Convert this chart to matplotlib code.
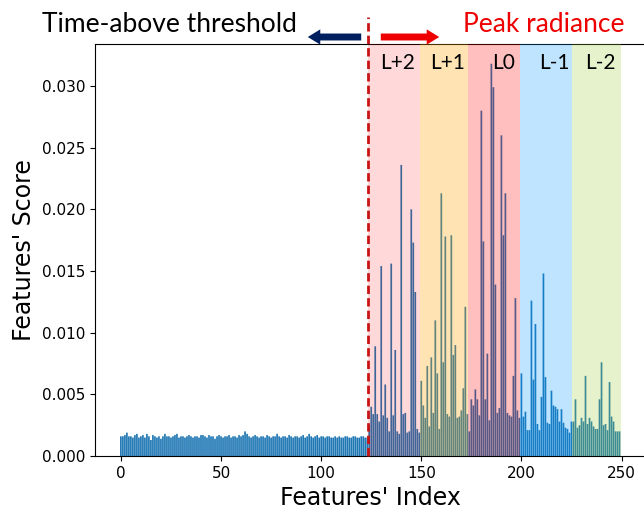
import numpy as np
import matplotlib.pyplot as plt

# feature scores (x 1e-3)
flat = [1.6, 1.6, 1.7, 1.9, 1.6, 1.6, 1.5, 1.7, 1.8, 1.5,
        1.6, 1.7, 1.5, 1.8, 1.6, 1.3, 1.7, 1.6, 1.5, 1.6,
        1.4, 1.6, 1.8, 1.6, 1.6, 1.5, 1.6, 1.7, 1.8, 1.5,
        1.6, 1.6, 1.5, 1.6, 1.7, 1.6, 1.5, 1.6, 1.6, 1.5,
        1.7, 1.7, 1.6, 1.5, 1.7, 1.6, 1.6, 1.4, 1.6, 1.7,
        1.6, 1.5, 1.6, 1.6, 1.7, 1.5, 1.6, 1.6, 1.5, 1.7,
        1.6, 1.7, 2.0, 1.8, 1.6, 1.5, 1.6, 1.7, 1.6, 1.5,
        1.6, 1.6, 1.5, 1.7, 1.6, 1.5, 1.6, 1.6, 1.8, 1.6,
        1.5, 1.6, 1.6, 1.5, 1.7, 1.6, 1.5, 1.6, 1.6, 1.5,
        1.6, 1.7, 1.5, 1.6, 1.8, 1.6, 1.5, 1.6, 1.7, 1.5,
        1.6, 1.6, 1.5, 1.6, 1.6, 1.5, 1.5, 1.6, 1.5, 1.6,
        1.5, 1.5, 1.6, 1.6, 1.5, 1.5, 1.6, 1.6, 1.5, 1.5,
        1.6, 1.6, 1.5, 1.5]
lp2 = [2.5, 4.0, 3.4, 8.9, 3.4, 2.8, 15.4, 3.3, 5.8, 3.1, 2.0, 15.6, 3.3,
       8.6, 2.0, 1.8, 23.6, 3.4, 3.5, 1.9, 2.0, 20.0, 17.3, 13.3, 2.2, 1.9]
lp1 = [6.1, 4.1, 3.1, 7.3, 2.4, 8.0, 3.5, 11.0, 6.7, 2.2, 21.3, 7.6,
       17.8, 3.4, 3.2, 17.9, 8.2, 9.0, 3.1, 3.2, 3.7, 5.5, 12.1, 3.4]
l0 = [2.0, 4.6, 4.1, 5.4, 4.6, 3.3, 28.0, 17.4, 4.6, 8.3, 2.9, 31.8, 29.9,
      13.9, 3.5, 3.9, 26.0, 17.9, 21.3, 3.5, 3.3, 3.2, 6.5, 12.8, 3.7, 3.1]
lm1 = [6.7, 3.2, 3.6, 2.1, 2.1, 12.6, 6.2, 10.7, 2.6, 2.1, 4.8, 14.8, 6.4,
       2.7, 2.6, 5.3, 4.1, 4.0, 3.8, 2.8, 3.8, 2.7, 2.3, 2.2, 1.9, 2.8]
lm2 = [2.8, 4.6, 2.3, 2.5, 3.1, 2.8, 6.5, 2.6, 3.1, 2.8, 2.4, 2.2,
       2.2, 4.6, 7.6, 2.5, 2.6, 2.1, 6.0, 3.2, 2.8, 2.0, 2.0, 2.0]

scores = np.array(flat + lp2 + lp1 + l0 + lm1 + lm2) * 1e-3
idx = np.arange(len(scores))

region_names = ['L+2', 'L+1', 'L0', 'L-1', 'L-2']
region_edges = [123.5, 149.5, 173.5, 199.5, 225.5, 249.7]
region_colors = ['red', 'orange', 'red', '#0096ff', 'yellowgreen']
region_alpha = [0.15, 0.3, 0.25, 0.25, 0.25]
label_x = [138, 163, 191, 216.5, 239.5]

fig = plt.figure(figsize=(6.44, 5.13), dpi=100)
ax = fig.add_axes([0.1475, 0.111, 0.8556, 0.803])

ax.bar(idx, scores, width=0.85, color='#1f77b4', snap=False)

for i in range(5):
    ax.axvspan(region_edges[i], region_edges[i + 1], color=region_colors[i],
               alpha=region_alpha[i], lw=0, zorder=3)
    ax.text(label_x[i], 0.955, region_names[i], transform=ax.get_xaxis_transform(),
            ha='center', va='center', fontsize=15, family='Lato', zorder=5)

ax.axvline(123.5, ymin=0, ymax=1.065, clip_on=False, color='#c81414',
           lw=2, ls=(0, (3, 1.5)), zorder=6)

ax.set_xlabel("Features' Index", fontsize=17)
ax.set_ylabel("Features' Score", fontsize=17)
ax.tick_params(labelsize=11)

fig.text(169, 489, 'Time-above threshold', transform=None, ha='center',
         va='center', fontsize=19, family='Lato', color='black')
fig.text(544, 489, 'Peak radiance', transform=None, ha='center',
         va='center', fontsize=19, family='Lato', color='#ee0000')
arrow = 'simple,head_width=1.1,head_length=0.9,tail_width=0.5'
ax.annotate('', xy=(305, 476), xytext=(364, 476), xycoords='figure pixels',
            arrowprops=dict(arrowstyle=arrow, color='#002060', lw=0))
ax.annotate('', xy=(442, 476), xytext=(378, 476), xycoords='figure pixels',
            arrowprops=dict(arrowstyle=arrow, color='#ee0000', lw=0))

plt.savefig('out.png', dpi=100)
